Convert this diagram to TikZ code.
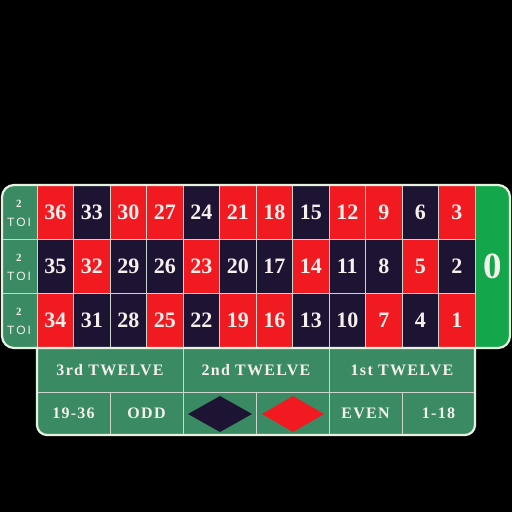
\documentclass[tikz,border=0pt]{standalone}
\usepackage{fontspec}
\setmainfont{Liberation Serif}
\newfontfamily\toifont{Liberation Sans}
\newfontfamily\betfont[LetterSpace=8]{Liberation Serif}
\definecolor{felt}{RGB}{58,139,100}
\definecolor{zerogreen}{RGB}{19,166,75}
\definecolor{rouge}{RGB}{240,26,32}
\definecolor{noir}{RGB}{28,20,50}
\definecolor{gridline}{RGB}{205,212,205}
\definecolor{rim}{RGB}{230,242,222}
\definecolor{ink}{RGB}{246,240,236}

\begin{document}
\begin{tikzpicture}[x=1pt, y=-1pt,
    redcell/.style={fill=rouge, draw=gridline, line width=0.8pt},
    blackcell/.style={fill=noir, draw=gridline, line width=0.8pt},
    feltcell/.style={fill=felt, draw=gridline, line width=0.8pt},
    num/.style={text=ink, font=\fontsize{22}{22}\selectfont\bfseries},
    bet/.style={text=ink, font=\betfont\fontsize{16}{16}\selectfont\bfseries},
    rimline/.style={draw=rim, line width=2.2pt}]
    %% background
    \fill[black] (0,0) rectangle (512,512);
    %% outside bets
    \begin{scope}
    \clip[rounded corners=10pt] (37,330) rectangle (475,435);
    \draw[feltcell] (37,348) rectangle (183,392) node[pos=0.5, bet](doz3){3rd TWELVE};
    \draw[feltcell] (183,348) rectangle (329,392) node[pos=0.5, bet](doz2){2nd TWELVE};
    \draw[feltcell] (329,348) rectangle (475,392) node[pos=0.5, bet](doz1){1st TWELVE};
    \draw[feltcell] (37,392) rectangle (110,440) node[pos=0.5, bet, yshift=2.5pt](high){19-36};
    \draw[feltcell] (110,392) rectangle (183,440) node[pos=0.5, bet, yshift=2.5pt](odd){ODD};
    \draw[feltcell] (183,392) rectangle (256,440);
    \draw[feltcell] (256,392) rectangle (329,440);
    \draw[feltcell] (329,392) rectangle (402,440) node[pos=0.5, bet, yshift=2.5pt](even){EVEN};
    \draw[feltcell] (402,392) rectangle (475,440) node[pos=0.5, bet, yshift=2.5pt](low){1-18};
    \end{scope}
    \draw[rimline, rounded corners=10pt] (37,330) rectangle (475,435);
    %% -- colour diamonds
    \fill[noir] (188,414) -- (220,396) -- (252,414) -- (220,432) -- cycle;
    \fill[rouge] (262,414) -- (293,396) -- (324,414) -- (293,432) -- cycle;
    %% number grid
    \begin{scope}
    \clip[rounded corners=12pt] (2,185) rectangle (510,348);
    %% -- columns
    \draw[feltcell] (0,185) rectangle (37,239);
    \draw[feltcell] (0,239) rectangle (37,293);
    \draw[feltcell] (0,293) rectangle (37,348);
    %% -- top row
    \draw[redcell] (37,185) rectangle (73.5,239) node[pos=0.5, num](n36){36};
    \draw[blackcell] (73.5,185) rectangle (110,239) node[pos=0.5, num](n33){33};
    \draw[redcell] (110,185) rectangle (146.5,239) node[pos=0.5, num](n30){30};
    \draw[redcell] (146.5,185) rectangle (183,239) node[pos=0.5, num](n27){27};
    \draw[blackcell] (183,185) rectangle (219.5,239) node[pos=0.5, num](n24){24};
    \draw[redcell] (219.5,185) rectangle (256,239) node[pos=0.5, num](n21){21};
    \draw[redcell] (256,185) rectangle (292.5,239) node[pos=0.5, num](n18){18};
    \draw[blackcell] (292.5,185) rectangle (329,239) node[pos=0.5, num](n15){15};
    \draw[redcell] (329,185) rectangle (365.5,239) node[pos=0.5, num](n12){12};
    \draw[redcell] (365.5,185) rectangle (402,239) node[pos=0.5, num](n9){9};
    \draw[blackcell] (402,185) rectangle (438.5,239) node[pos=0.5, num](n6){6};
    \draw[redcell] (438.5,185) rectangle (475,239) node[pos=0.5, num](n3){3};
    %% -- middle row
    \draw[blackcell] (37,239) rectangle (73.5,293) node[pos=0.5, num](n35){35};
    \draw[redcell] (73.5,239) rectangle (110,293) node[pos=0.5, num](n32){32};
    \draw[blackcell] (110,239) rectangle (146.5,293) node[pos=0.5, num](n29){29};
    \draw[blackcell] (146.5,239) rectangle (183,293) node[pos=0.5, num](n26){26};
    \draw[redcell] (183,239) rectangle (219.5,293) node[pos=0.5, num](n23){23};
    \draw[blackcell] (219.5,239) rectangle (256,293) node[pos=0.5, num](n20){20};
    \draw[blackcell] (256,239) rectangle (292.5,293) node[pos=0.5, num](n17){17};
    \draw[redcell] (292.5,239) rectangle (329,293) node[pos=0.5, num](n14){14};
    \draw[blackcell] (329,239) rectangle (365.5,293) node[pos=0.5, num](n11){11};
    \draw[blackcell] (365.5,239) rectangle (402,293) node[pos=0.5, num](n8){8};
    \draw[redcell] (402,239) rectangle (438.5,293) node[pos=0.5, num](n5){5};
    \draw[blackcell] (438.5,239) rectangle (475,293) node[pos=0.5, num](n2){2};
    %% -- bottom row
    \draw[redcell] (37,293) rectangle (73.5,348) node[pos=0.5, num](n34){34};
    \draw[blackcell] (73.5,293) rectangle (110,348) node[pos=0.5, num](n31){31};
    \draw[blackcell] (110,293) rectangle (146.5,348) node[pos=0.5, num](n28){28};
    \draw[redcell] (146.5,293) rectangle (183,348) node[pos=0.5, num](n25){25};
    \draw[blackcell] (183,293) rectangle (219.5,348) node[pos=0.5, num](n22){22};
    \draw[redcell] (219.5,293) rectangle (256,348) node[pos=0.5, num](n19){19};
    \draw[redcell] (256,293) rectangle (292.5,348) node[pos=0.5, num](n16){16};
    \draw[blackcell] (292.5,293) rectangle (329,348) node[pos=0.5, num](n13){13};
    \draw[blackcell] (329,293) rectangle (365.5,348) node[pos=0.5, num](n10){10};
    \draw[redcell] (365.5,293) rectangle (402,348) node[pos=0.5, num](n7){7};
    \draw[blackcell] (402,293) rectangle (438.5,348) node[pos=0.5, num](n4){4};
    \draw[redcell] (438.5,293) rectangle (475,348) node[pos=0.5, num](n1){1};
    %% -- zero
    \draw[fill=zerogreen, draw=gridline, line width=0.8pt] (475,180) rectangle (515,352);
    \end{scope}
    \draw[rimline, rounded corners=12pt] (2,185) rectangle (510,348);
    \draw (493,266) node[text=ink, font=\fontsize{37}{37}\selectfont\bfseries](n0){0};
    %% 2 to 1 labels
    \draw (19,204) node[text=ink, font=\fontsize{11}{11}\selectfont\bfseries](two1){2};
    \draw (19,222) node[text=ink, font=\toifont\fontsize{12}{12}\selectfont](toi1){T\,O\,I};
    \draw (19,258) node[text=ink, font=\fontsize{11}{11}\selectfont\bfseries](two2){2};
    \draw (19,276) node[text=ink, font=\toifont\fontsize{12}{12}\selectfont](toi2){T\,O\,I};
    \draw (19,312) node[text=ink, font=\fontsize{11}{11}\selectfont\bfseries](two3){2};
    \draw (19,330) node[text=ink, font=\toifont\fontsize{12}{12}\selectfont](toi3){T\,O\,I};
\end{tikzpicture}
\end{document}
